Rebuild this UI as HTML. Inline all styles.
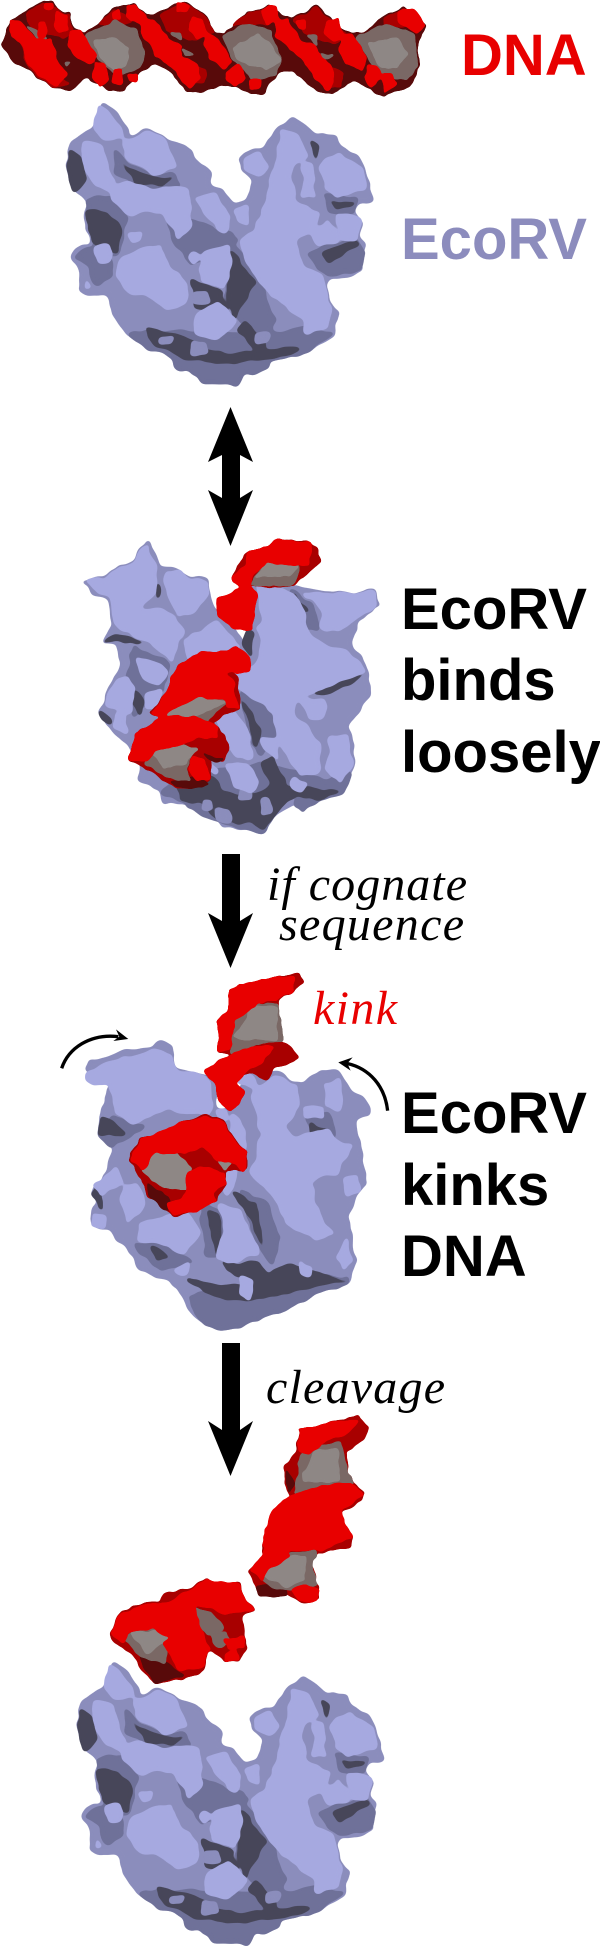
<!DOCTYPE html>
<html><head><meta charset="utf-8"><title>EcoRV and DNA</title>
<style>
html,body{margin:0;padding:0;background:#fff}
svg{display:block}
polygon{stroke-linejoin:round;stroke-width:6}
.m,.l,.d,.k{filter:url(#o)}
.r,.v,.x,.g,.h{filter:url(#p)}
.m polygon{fill:#8b8dbc;stroke:#8b8dbc}
.l polygon{fill:#a6a9e0;stroke:#a6a9e0}
.d polygon{fill:#6f7199;stroke:#6f7199}
.k polygon{fill:#474659;stroke:#474659}
.r polygon{fill:#e80000;stroke:#e80000}
.v polygon{fill:#a80000;stroke:#a80000}
.x polygon{fill:#580a0a;stroke:#580a0a}
.g polygon{fill:#7a6865;stroke:#7a6865}
.h polygon{fill:#8e8785;stroke:#8e8785}
.b{font-family:"Liberation Sans",sans-serif;font-weight:700;font-size:58px}
.i{font-family:"Liberation Serif",serif;font-style:italic;font-size:48px}
</style></head><body>
<svg xmlns="http://www.w3.org/2000/svg" width="600" height="1947" viewBox="0 0 600 1947">
<defs>
<filter id="o" x="-15%" y="-15%" width="130%" height="130%" color-interpolation-filters="sRGB">
<feTurbulence type="fractalNoise" baseFrequency=".022" numOctaves="2" seed="4" result="n"/>
<feDisplacementMap in="SourceGraphic" in2="n" scale="26" xChannelSelector="R" yChannelSelector="G" result="w"/>
<feGaussianBlur in="w" stdDeviation="6"/>
<feComponentTransfer><feFuncA type="linear" slope="10" intercept="-4.5"/></feComponentTransfer>
</filter>
<filter id="p" x="-15%" y="-15%" width="130%" height="130%" color-interpolation-filters="sRGB">
<feTurbulence type="fractalNoise" baseFrequency=".03" numOctaves="2" seed="9" result="n"/>
<feDisplacementMap in="SourceGraphic" in2="n" scale="18" xChannelSelector="R" yChannelSelector="G" result="w"/>
<feGaussianBlur in="w" stdDeviation="4"/>
<feComponentTransfer><feFuncA type="linear" slope="10" intercept="-4.5"/></feComponentTransfer>
</filter>
<g id="open">
<g class="m"><polygon points="265,305 295,325 320,365 335,405 400,390 435,420 470,430 500,450 505,480 550,510 545,560 580,565 605,615 640,610 650,580 665,540 630,510 625,470 660,445 685,445 730,385 765,350 785,375 820,405 840,395 875,410 880,440 930,465 950,500 965,550 975,605 930,615 920,635 940,670 940,705 955,735 940,770 945,810 905,830 865,835 850,860 865,920 888,940 875,975 870,1010 810,1050 780,1070 710,1080 700,1105 640,1125 610,1160 570,1150 530,1150 500,1120 470,1105 440,1075 380,1040 340,1000 300,960 285,880 240,890 205,870 205,810 188,770 200,745 240,735 220,650 225,600 180,540 180,450 205,405 250,380"/></g>
<g class="d"><polygon points="340,1000 440,990 560,1000 720,1000 800,980 870,1000 810,1050 780,1070 710,1080 700,1105 640,1125 610,1160 570,1150 530,1150 500,1120 470,1105 440,1075 380,1040"/><polygon points="300,450 330,480 380,520 450,520 470,560 420,600 350,550 300,520"/><polygon points="220,600 290,590 330,650 320,720 300,770 250,740"/><polygon points="440,630 510,660 600,700 620,720 500,800 450,720"/><polygon points="600,720 650,780 690,870 720,960 700,1020 620,960 590,900"/><polygon points="850,580 930,600 920,640 860,640"/><polygon points="810,760 930,710 950,760 940,810 860,830 830,810"/><polygon points="200,770 240,740 290,780 290,830 260,860 230,800"/></g>
<g class="k"><polygon points="182,450 215,470 225,540 195,570 180,540"/><polygon points="222,630 280,640 320,690 300,760 240,720"/><polygon points="605,750 640,810 670,850 650,880 610,960 595,880"/><polygon points="380,985 440,995 560,1060 720,1050 790,1040 760,1070 570,1090 480,1070 410,1040"/><polygon points="315,480 370,530 450,530 430,555 360,555"/><polygon points="860,600 925,610 880,625"/><polygon points="840,760 930,720 940,735 860,790"/><polygon points="500,830 580,880 590,930 510,930"/><polygon points="815,420 835,430 825,490"/><polygon points="640,960 700,1040 680,1060 620,990"/></g>
<g class="m"><polygon points="420,1010 450,1010 450,1030 420,1030"/><polygon points="500,1030 540,1030 540,1060 500,1060"/><polygon points="500,880 540,870 550,910 505,915"/><polygon points="670,1000 700,1000 700,1030 670,1030"/></g>
<g class="l"><polygon points="255,315 285,335 310,385 325,410 270,420 250,380"/><polygon points="215,425 265,440 285,510 300,540 285,570 250,560 225,510"/><polygon points="285,560 340,545 400,575 430,560 445,610 430,640 380,630 340,650 295,600"/><polygon points="320,420 400,395 435,425 460,500 400,525 365,495 330,470"/><polygon points="435,560 490,570 500,680 470,720 430,640"/><polygon points="510,590 560,580 600,650 590,700 540,650"/><polygon points="320,770 420,735 440,800 490,850 480,910 440,930 400,900 340,880 300,830"/><polygon points="530,760 600,730 605,800 580,870 530,840"/><polygon points="510,950 570,905 615,965 570,1020 510,1000"/><polygon points="740,390 780,400 800,470 760,500 770,600 830,640 810,700 770,720 800,800 840,830 860,920 860,980 800,1000 790,960 730,900 680,850 640,770 625,720 670,690 700,580 720,480"/><polygon points="840,500 880,460 945,500 960,570 880,590 850,560"/><polygon points="640,470 680,455 700,490 680,530 640,510"/><polygon points="790,490 815,490 825,590 790,590"/><polygon points="810,690 860,660 890,720 830,745"/><polygon points="880,640 935,650 935,720 900,720"/><polygon points="250,735 285,730 285,780 255,785"/><polygon points="225,830 245,860 220,870"/><polygon points="335,700 375,690 370,720 340,730"/><polygon points="610,625 645,620 655,680 625,670"/><polygon points="500,760 520,770 510,800 490,770"/></g>
</g>
</defs>

<!-- DNA -->
<g transform="scale(.3333)">
<g class="x"><polygon points="5,135 35,60 80,35 130,5 155,5 170,30 205,40 225,85 255,100 300,70 340,25 405,15 440,45 480,40 520,15 560,10 620,50 640,95 675,105 740,40 810,20 870,60 950,20 985,50 1035,95 1085,105 1150,50 1215,25 1278,75 1250,130 1255,200 1225,260 1155,288 1100,260 1060,235 1000,280 950,270 880,210 840,215 780,285 730,270 680,250 600,275 560,270 510,215 470,190 420,215 370,270 330,270 265,230 210,272 160,260 90,215 30,170"/></g>
<g class="v"><polygon points="80,40 130,10 170,30 205,45 222,90 190,115 100,90"/><polygon points="300,70 345,30 400,60 340,80"/><polygon points="480,45 525,20 565,15 620,55 640,95 570,125 500,90"/><polygon points="700,75 745,40 810,25 800,70 750,70"/><polygon points="880,60 950,25 985,55 1035,100 1000,130 930,110"/><polygon points="1150,55 1215,30 1230,80 1150,80"/><polygon points="580,200 620,210 610,250 570,250"/><polygon points="980,200 1030,220 1020,260 980,260"/><polygon points="60,120 150,210 210,250 160,260 90,210"/></g>
<g class="g"><polygon points="255,105 345,65 400,85 435,155 420,200 350,230 290,170"/><polygon points="668,110 745,70 810,90 840,170 830,225 760,240 700,180"/><polygon points="1070,115 1150,75 1240,100 1250,200 1220,240 1130,215 1105,170"/><polygon points="80,75 140,115 115,115"/><polygon points="550,145 585,165 555,165"/><polygon points="515,100 540,100 545,125"/><polygon points="920,105 950,110 950,135"/><polygon points="960,165 1000,165 970,175"/><polygon points="195,185 215,185 200,200"/></g>
<g class="h"><polygon points="285,125 340,115 385,145 375,195 345,215 300,170"/><polygon points="700,145 770,105 810,130 840,180 800,210 750,190 710,180"/><polygon points="1105,130 1190,115 1225,165 1190,200 1145,205"/></g>
<g class="r"><polygon points="30,60 60,65 110,120 150,120 175,190 200,225 170,255 140,240 90,200 65,130 35,110"/><polygon points="135,10 155,10 155,25 135,25"/><polygon points="170,35 200,45 205,90 180,100 165,70"/><polygon points="115,70 135,65 135,110 120,110"/><polygon points="212,95 240,90 285,165 270,190 230,175 205,140"/><polygon points="285,185 315,195 325,240 300,260 280,225"/><polygon points="340,210 365,210 365,255 340,250"/><polygon points="385,225 415,220 410,245 385,245"/><polygon points="340,40 360,30 360,60 340,60"/><polygon points="380,20 410,20 440,50 420,70 380,50"/><polygon points="420,60 460,60 510,120 545,140 540,170 590,195 600,235 570,265 545,240 520,200 470,170 450,130 420,100"/><polygon points="575,50 605,60 620,100 590,115 570,90"/><polygon points="530,10 565,15 560,35 530,35"/><polygon points="620,100 650,115 695,185 670,205 630,175 610,130"/><polygon points="685,210 715,195 735,235 705,260 680,235"/><polygon points="750,240 780,240 775,265 750,265"/><polygon points="785,30 825,20 840,60 800,70"/><polygon points="825,65 860,60 905,125 945,135 950,160 990,190 1000,240 985,270 960,250 930,210 880,150 830,110"/><polygon points="980,60 1015,55 1030,105 1000,120 975,100"/><polygon points="890,65 915,60 915,85 895,85"/><polygon points="1030,105 1055,100 1100,175 1085,210 1040,190 1015,145"/><polygon points="1105,195 1130,200 1145,235 1115,265 1095,230"/><polygon points="1150,225 1175,220 1190,250 1155,280"/><polygon points="1195,35 1240,30 1275,75 1250,95 1220,80 1195,65"/></g>
</g>
<text class="b" x="461" y="75" fill="#e80000">DNA</text>

<!-- EcoRV free -->
<g transform="scale(.3827,.3333)"><use href="#open"/></g>
<text class="b" x="401" y="259" fill="#8c8cbd">EcoRV</text>

<!-- Double arrow -->
<polygon points="230.5,407 253,462 240,455 240,498 253,490 230.5,546 208,490 222,498 222,455 208,462" fill="#000" stroke="none"/>

<!-- Bound -->
<g transform="translate(60,530) scale(.3333)">
<g class="m"><polygon points="70,155 130,145 175,105 225,90 240,50 262,38 285,60 295,110 330,112 385,145 440,140 448,195 470,250 530,300 570,370 575,170 640,165 700,165 790,185 880,190 945,180 955,225 890,280 880,340 920,420 930,490 900,540 860,590 885,640 885,700 845,790 780,810 730,850 700,820 640,860 610,915 560,895 480,890 440,830 370,820 310,820 300,780 240,750 240,690 200,640 150,590 115,550 150,470 185,420 165,340 130,335 155,290 150,205 100,190"/></g>
<g class="d"><polygon points="300,790 380,820 470,880 560,895 610,915 640,860 640,780 700,780 700,830 730,850 780,810 850,790 880,720 800,750 700,720 600,700 470,720 350,740"/><polygon points="540,480 640,550 650,620 600,680 560,600"/><polygon points="690,175 760,230 780,300 730,300 700,230"/><polygon points="220,350 330,400 310,480 220,560 200,450"/></g>
<g class="k"><polygon points="130,335 165,310 250,340 200,345 160,330"/><polygon points="350,750 460,740 480,780 540,800 620,780 640,740 680,770 780,780 840,780 780,810 730,800 700,790 640,860 610,900 580,880 470,870 440,820 360,810"/><polygon points="600,700 640,680 680,760 640,770"/><polygon points="115,545 150,560 155,580 125,570"/><polygon points="760,490 880,440 920,420 860,470 790,495"/><polygon points="540,500 600,600 590,660 570,590"/><polygon points="700,190 730,230 745,250 720,240"/><polygon points="555,300 580,310 570,380 550,350"/><polygon points="225,480 255,520 240,555 220,520"/><polygon points="290,160 305,170 300,210"/></g>
<g class="m"><polygon points="430,810 455,810 455,835 430,835"/><polygon points="470,835 510,835 510,880 470,880"/><polygon points="540,775 575,775 575,810 540,810"/><polygon points="605,810 630,810 630,850 605,850"/></g>
<g class="l"><polygon points="75,150 130,150 175,110 225,95 245,50 265,45 290,120 290,190 240,225 235,290 210,310 160,280 155,200 100,180"/><polygon points="315,125 355,125 385,150 440,150 445,190 400,250 355,260 325,210"/><polygon points="225,240 310,240 345,265 375,300 330,390 270,340 220,320"/><polygon points="375,330 465,275 520,320 545,350 420,380 385,395"/><polygon points="235,380 290,400 325,425 300,465 240,450"/><polygon points="130,520 175,450 205,440 225,470 215,545 170,540"/><polygon points="165,550 195,550 195,610 160,590"/><polygon points="250,490 305,480 290,530 265,540"/><polygon points="590,165 660,170 720,215 745,320 810,350 860,360 915,420 860,445 800,470 710,510 700,560 740,590 780,640 780,730 720,740 650,620 640,550 560,490 525,470 530,440 590,400 610,320 590,300 610,280"/><polygon points="730,190 790,190 880,190 945,185 950,230 880,270 830,310 780,290 790,240"/><polygon points="725,510 795,510 790,560 745,570"/><polygon points="810,620 860,610 880,700 840,760 800,720"/><polygon points="465,570 520,540 570,620 580,680 530,680 490,620"/><polygon points="500,700 560,695 600,760 570,790 520,770"/><polygon points="445,700 480,720 470,735 450,720"/><polygon points="600,620 650,630 660,690 610,660"/><polygon points="700,745 745,765 720,785 695,770"/></g>
<g class="v"><polygon points="515,140 565,65 625,50 655,28 735,35 775,60 780,95 700,165 640,170 590,165 540,170"/><polygon points="210,690 225,610 310,560 405,560 470,590 495,625 505,655 490,695 450,680 455,745 390,780 330,760 255,710"/><polygon points="270,550 320,490 350,410 420,365 530,440 540,535 440,580 350,575"/></g>
<g class="x"><polygon points="330,755 390,780 450,760 400,740"/><polygon points="430,670 490,690 465,695"/></g>
<g class="g"><polygon points="575,165 610,100 715,105 720,125 695,165"/><polygon points="300,555 385,510 420,495 505,510 440,575 350,575"/><polygon points="275,670 345,635 400,665 375,720 385,750 320,740 255,700"/></g>
<g class="h"><polygon points="590,140 615,100 715,110 690,135"/><polygon points="315,550 385,515 420,500 495,515 420,555 345,560"/><polygon points="280,670 345,635 410,660 375,700 310,710"/></g>
<g class="r"><polygon points="515,140 560,110 565,65 625,50 655,28 750,40 745,105 700,105 620,95 580,130 570,170 540,170"/><polygon points="470,205 520,190 560,160 590,190 575,300 520,295 475,255"/><polygon points="350,410 420,365 470,370 530,355 570,385 565,420 530,430 490,425 520,460 525,500 540,535 500,530 495,505 420,500 350,530 300,560 275,550 320,490"/><polygon points="210,690 225,610 310,560 405,560 470,590 470,620 410,625 370,640 290,660 260,690"/><polygon points="400,680 430,690 455,745 410,750 385,720"/></g>
</g>
<text class="b" x="401" y="629">EcoRV</text>
<text class="b" x="401" y="700">binds</text>
<text class="b" x="401" y="772">loosely</text>

<!-- Arrow 2 -->
<polygon points="222,854 240,854 240,921 253,913 230.5,968 208,913 222,921" fill="#000" stroke="none"/>
<text class="i" x="267" y="900" textLength="200" lengthAdjust="spacing">if cognate</text>
<text class="i" x="279" y="940" textLength="185" lengthAdjust="spacing">sequence</text>

<!-- Kinked -->
<g transform="translate(60,970) scale(.3333)">
<g class="m"><polygon points="70,300 85,275 145,262 200,235 280,235 305,218 330,225 345,290 400,310 440,310 465,340 470,420 500,420 520,390 545,350 570,310 650,305 690,330 730,340 790,298 830,310 930,410 925,430 880,450 905,540 915,640 860,740 895,870 860,940 760,975 681,1020 600,1040 543,1075 428,1070 382,1000 330,930 240,900 220,860 150,780 100,770 90,740 115,700 90,670 140,610 155,530 110,490 130,430 145,340"/></g>
<g class="d"><polygon points="385,980 480,950 600,960 700,920 860,920 860,940 760,975 681,1020 600,1040 543,1075 428,1070"/><polygon points="420,700 480,720 490,860 440,860"/><polygon points="110,490 160,440 250,470 180,520 150,530"/><polygon points="540,660 620,700 660,800 640,880 590,820"/><polygon points="740,440 810,430 830,500 770,540"/><polygon points="220,820 330,820 400,880 300,900"/></g>
<g class="k"><polygon points="110,490 130,440 200,490 170,500"/><polygon points="440,720 475,730 480,870 460,810"/><polygon points="480,880 600,880 640,940 610,960 500,900"/><polygon points="380,930 470,980 560,990 680,970 760,950 860,930 800,920 700,880 640,900 600,950 480,950"/><polygon points="750,460 810,490 780,520 750,490"/><polygon points="90,670 115,650 130,720"/><polygon points="515,660 590,700 610,840 570,740"/><polygon points="270,830 330,860 290,870"/></g>
<g class="l"><polygon points="75,310 145,275 280,240 335,260 350,300 440,315 460,400 445,440 360,430 330,410 220,460 170,430 140,340 80,330"/><polygon points="570,370 640,320 710,345 720,400 680,470 700,500 800,480 830,510 880,530 850,570 830,610 750,630 760,700 820,790 770,810 680,760 660,700 600,640 570,610 590,560 600,490 590,430"/><polygon points="100,650 170,590 190,640 120,680"/><polygon points="190,650 230,640 260,700 210,760 180,690"/><polygon points="240,760 380,720 420,780 380,850 300,820 230,810"/><polygon points="480,700 540,720 600,850 500,880 470,870 490,780"/><polygon points="520,430 560,480 550,550 520,650 500,680 490,660"/><polygon points="100,730 140,740 135,775 95,770"/><polygon points="530,305 590,330 590,355 545,340"/><polygon points="340,900 390,880 380,920"/><polygon points="730,410 790,410 790,445 735,445"/><polygon points="790,340 840,330 845,420 800,410"/><polygon points="540,920 580,930 570,990 540,970"/><polygon points="720,870 750,890 750,920 720,910"/><polygon points="860,800 880,870 850,900 830,860"/><polygon points="850,620 895,610 900,670 860,680"/><polygon points="690,690 730,670 750,700 700,720"/><polygon points="470,420 500,420 505,450 475,450"/></g>
<g class="v"><polygon points="510,55 530,50 590,35 640,20 715,12 730,35 700,65 650,90 660,210 590,220 510,250 475,240 480,190 470,155 510,120"/><polygon points="240,510 325,480 430,435 490,450 510,490 560,550 555,595 495,605 495,640 470,690 400,725 340,735 300,700 265,680 245,625 210,570"/><polygon points="435,300 495,265 520,250 590,220 680,215 715,265 640,295 620,330 590,310 550,310 525,345 550,365 540,400 510,425 480,395 465,340"/></g>
<g class="x"><polygon points="260,640 320,680 345,720 310,715 270,680"/></g>
<g class="g"><polygon points="520,195 530,150 580,105 650,100 670,210 590,220 560,240 510,250"/></g>
<g class="h"><polygon points="525,200 580,110 650,110 650,210 545,205"/><polygon points="245,600 285,545 350,550 395,595 375,620 390,660 310,650"/><polygon points="440,525 490,530 510,580 495,600"/></g>
<g class="r"><polygon points="510,55 530,50 590,35 640,20 700,20 700,65 650,85 590,100 570,125 525,145 520,190 505,240 475,240 480,190 470,155 510,120"/><polygon points="435,300 495,265 520,250 590,230 640,230 600,280 560,300 525,345 550,365 540,400 510,425 480,395 465,340"/><polygon points="215,570 245,510 330,475 430,440 490,455 510,495 560,550 550,600 505,570 470,570 430,530 350,550 285,545 245,600"/><polygon points="380,610 430,590 490,610 495,640 440,680 385,680"/><polygon points="395,650 440,640 470,690 410,725 340,730 320,700 370,690"/></g>
<path d="M5,295 C25,235 90,190 175,200" fill="none" stroke="#000" stroke-width="10"/>
<polygon points="205,207 168,178 178,200 160,213" fill="#000" stroke="none"/>
<path d="M983,422 C975,350 930,295 860,280" fill="none" stroke="#000" stroke-width="10"/>
<polygon points="835,277 878,262 862,280 872,302" fill="#000" stroke="none"/>
</g>
<text class="i" x="313" y="1024" fill="#e80000" textLength="84" lengthAdjust="spacing">kink</text>
<text class="b" x="401" y="1133">EcoRV</text>
<text class="b" x="401" y="1205">kinks</text>
<text class="b" x="401" y="1276">DNA</text>

<!-- Arrow 3 -->
<polygon points="222,1343 240,1343 240,1430 253,1421 230.5,1476 208,1421 222,1430" fill="#000" stroke="none"/>
<text class="i" x="266" y="1403" textLength="179" lengthAdjust="spacing">cleavage</text>

<!-- Cleaved -->
<g transform="translate(0,1440) scale(.3827,.3333)">
<g class="v"><polygon points="780,-30 860,-50 940,-70 962,-40 950,0 905,30 905,90 925,130 950,160 945,185 890,215 895,240 918,290 915,320 825,335 815,380 830,440 830,480 790,488 750,460 680,470 655,395 690,340 690,290 715,265 715,210 760,170 745,150 745,90 745,70 775,40"/><polygon points="290,580 315,515 390,485 420,490 430,460 500,445 545,418 575,437 625,432 640,480 667,510 630,525 640,590 640,625 620,662 590,660 550,630 530,690 470,720 405,730 365,680 345,640 300,610"/></g>
<g class="x"><polygon points="670,440 700,435 750,450 750,465 680,470"/><polygon points="365,650 440,670 480,710 405,730"/><polygon points="748,90 770,130 750,160"/></g>
<g class="g"><polygon points="790,40 830,20 890,10 905,90 925,130 820,150 770,160"/><polygon points="680,410 760,340 825,335 815,390 830,435 780,450 710,440"/><polygon points="325,595 380,565 430,570 445,600 430,670 370,650"/><polygon points="480,505 550,515 580,565 540,585"/><polygon points="550,590 590,575 600,600 570,620"/></g>
<g class="h"><polygon points="790,100 830,30 880,30 885,125 800,125"/><polygon points="690,405 760,350 800,350 790,420 750,440"/><polygon points="345,580 425,570 440,600 385,640"/></g>
<g class="r"><polygon points="780,-30 860,-50 935,-60 900,-20 850,0 810,45 780,30"/><polygon points="755,170 830,140 920,130 950,165 890,210 900,250 918,290 840,330 750,330 690,320 690,290 715,210"/><polygon points="660,390 700,320 755,310 755,350 690,400 685,420"/><polygon points="765,450 800,435 832,450 825,485 780,480"/><polygon points="292,580 315,520 390,490 510,505 525,580 550,630 530,680 470,690 450,650 430,610 445,590 400,560 335,580 320,610"/><polygon points="420,495 500,450 545,420 625,435 640,480 665,510 590,525 550,500 480,500"/><polygon points="590,600 640,590 635,620 595,625"/><polygon points="590,640 620,630 620,660 590,660"/></g>
</g>
<g transform="translate(10.7,1559.3) scale(.3827,.3333)"><use href="#open"/></g>
</svg>
</body></html>
